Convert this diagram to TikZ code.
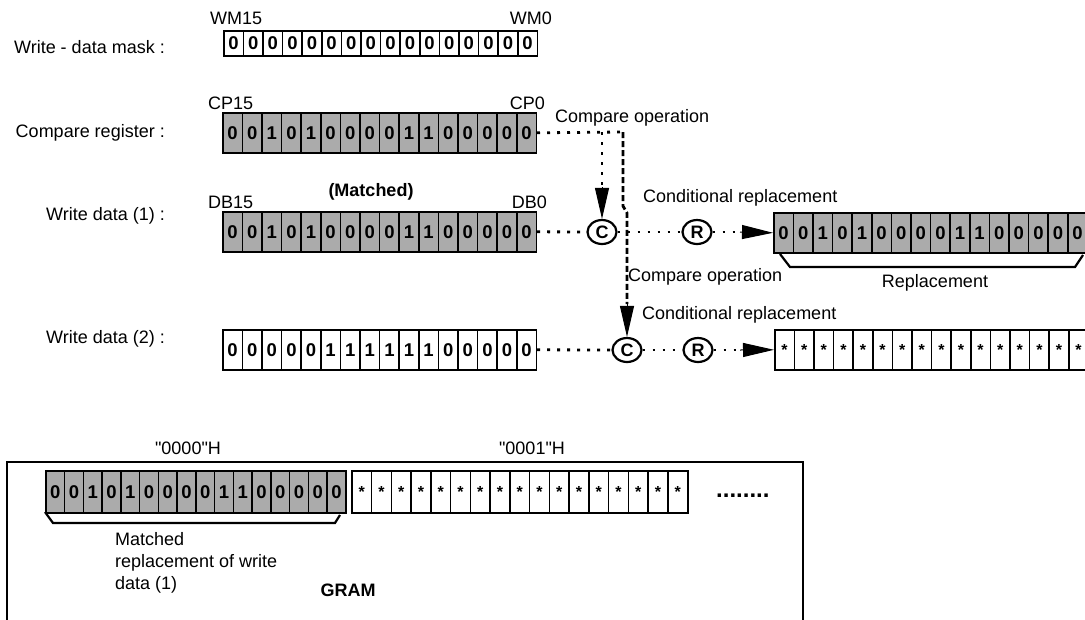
\documentclass[tikz,border=0pt]{standalone}
\usepackage{fontspec}
\setmainfont{Liberation Sans}
\newfontfamily\quotefont{Liberation Sans}[Ligatures=TeXOff]
\usetikzlibrary{arrows.meta,shapes.geometric}
\tikzset{
  lbl/.style={font=\fontsize{18}{22}\selectfont, inner sep=0pt},
  blbl/.style={lbl, font=\bfseries\fontsize{18}{22}\selectfont},
  bitcell/.style={draw, line width=1.6pt, inner sep=0pt, font=\bfseries\fontsize{18.5}{18.5}\selectfont},
  shadecell/.style={bitcell, fill=black!33},
  plaincell/.style={bitcell, fill=white},
  starcell/.style={bitcell, fill=white, font=\bfseries\fontsize{16}{16}\selectfont},
  dotline/.style={line width=2.8pt, dash pattern=on 2.8pt off 7.2pt},
  dashline/.style={line width=2.8pt, dash pattern=on 6pt off 3pt},
  bighead/.style={-{Triangle[length=31pt,width=14pt]}, line width=1pt},
  opcircle/.style={draw, ellipse, line width=2.2pt, minimum width=29pt, minimum height=24pt, inner sep=0pt, font=\bfseries\fontsize{18}{18}\selectfont, fill=white},
  bracket/.style={line width=2.2pt},
}
\newcommand\regstar{\raisebox{-0.28em}{*}}
\newcommand\bitrow[7]{%
  \foreach \b [count=\i from 0] in {#7} {
    \node[#6, minimum width=#4pt, minimum height=#5pt, anchor=north west] (#1-\i) at ({#2+\i*#4}, #3) {\b};
  }%
}
\newcommand\starrow[6]{%
  \foreach \i in {0,...,#6} {
    \node[starcell, minimum width=#4pt, minimum height=#5pt, anchor=north west] (#1-\i) at ({#2+\i*#4}, #3) {\regstar};
  }%
}
\begin{document}
\begin{tikzpicture}[x=1pt,y=-1pt]
\useasboundingbox (0,0) rectangle (1085,619);

% row labels
\node[lbl, anchor=east] (lwm) at (165,47) {Write - data mask :};
\node[lbl, anchor=east] (lcp) at (165,133) {Compare register :};
\node[lbl, anchor=east] (ld1) at (165,216) {Write data (1) :};
\node[lbl, anchor=east] (ld2) at (165,339) {Write data (2) :};

% registers
\bitrow{wm}{223}{30}{19.6}{25}{plaincell}{0,0,0,0,0,0,0,0,0,0,0,0,0,0,0,0}
\bitrow{cp}{222}{112}{19.6}{40}{shadecell}{0,0,1,0,1,0,0,0,0,1,1,0,0,0,0,0}
\bitrow{da}{222}{211}{19.6}{40}{shadecell}{0,0,1,0,1,0,0,0,0,1,1,0,0,0,0,0}
\bitrow{rep}{773}{212}{19.6}{40}{shadecell}{0,0,1,0,1,0,0,0,0,1,1,0,0,0,0,0}
\bitrow{db}{222}{329}{19.6}{40}{plaincell}{0,0,0,0,0,1,1,1,1,1,1,0,0,0,0,0}
\starrow{sr}{774}{329}{19.6}{40}{15}

% register end labels
\node[lbl, anchor=west] (wm15) at (210,18) {WM15};
\node[lbl, anchor=east] (wm0) at (552,18) {WM0};
\node[lbl, anchor=west] (cp15) at (208,103) {CP15};
\node[lbl, anchor=east] (cp0) at (545,103) {CP0};
\node[lbl, anchor=west] (db15) at (208,202) {DB15};
\node[lbl, anchor=east] (db0) at (547,202) {DB0};
\node[blbl] (matched) at (371,192) {(Matched)};

% operation circles
\node[opcircle] (c1) at (602,232) {C};
\node[opcircle] (r1) at (697,232) {R};
\node[opcircle] (c2) at (627,350) {C};
\node[opcircle] (r2) at (698,350) {R};

% compare operation paths
\coordinate (cpcorner) at (623,132);
\coordinate (vtop) at (602,132);
\coordinate (vhead) at (602,187);
\coordinate (dbend1) at (623,206);
\coordinate (dbend2) at (627,213);
\coordinate (dend) at (627,304);
\draw[dotline] (cp-15.east) -- (cpcorner);
\draw[dotline] (vtop) -- (vhead);
\draw[bighead] (vhead) -- (c1.north);
\draw[dashline] (cpcorner) -- (dbend1) -- (dbend2) -- (dend);
\draw[bighead] (dend) -- (c2.north);

% row 1 flow
\coordinate (a1) at (740,232);
\draw[dotline] (da-15.east) -- (c1.west);
\draw[dotline] (c1.east) -- (r1.west);
\draw[dotline] (r1.east) -- (a1);
\draw[bighead] (a1) -- (rep-0.west);

% row 2 flow
\coordinate (a2) at (740,350);
\draw[dotline] (db-15.east) -- (c2.west);
\draw[dotline] (c2.east) -- (r2.west);
\draw[dotline] (r2.east) -- (a2);
\draw[bighead] (a2) -- (sr-0.west);

% operation labels
\node[lbl, anchor=west] (cop1) at (555,118) {Compare operation};
\node[lbl, anchor=west] (cop2) at (628,277) {Compare operation};
\node[lbl, anchor=west] (crep1) at (643,198) {Conditional replacement};
\node[lbl, anchor=west] (crep2) at (642,315) {Conditional replacement};

% replacement bracket
\draw[bracket] (780,254) -- (790,267) -- (1075,267) -- (1083,255);
\node[lbl] (reptxt) at (935,283) {Replacement};

% GRAM
\draw[line width=2.2pt] (7,625) -- (7,462) -- (803,462) -- (803,625);
\node[lbl] (h0) at (188,448) {\quotefont "0000"H};
\node[lbl] (h1) at (532,448) {\quotefont "0001"H};
\bitrow{gm}{45}{470}{18.75}{42}{shadecell}{0,0,1,0,1,0,0,0,0,1,1,0,0,0,0,0}
\starrow{gs}{351}{470}{19.76}{42}{16}
\node[anchor=base west, inner sep=0pt, font=\bfseries\fontsize{24}{24}\selectfont] (more) at (716,497) {........};
\draw[bracket] (45,512) -- (53,523) -- (335,523) -- (340,515);
\node[lbl, anchor=north west, align=left] (mtxt) at (115,532) {Matched\\replacement of write\\data (1)};
\node[blbl] (gram) at (348,590) {GRAM};
\end{tikzpicture}
\end{document}
